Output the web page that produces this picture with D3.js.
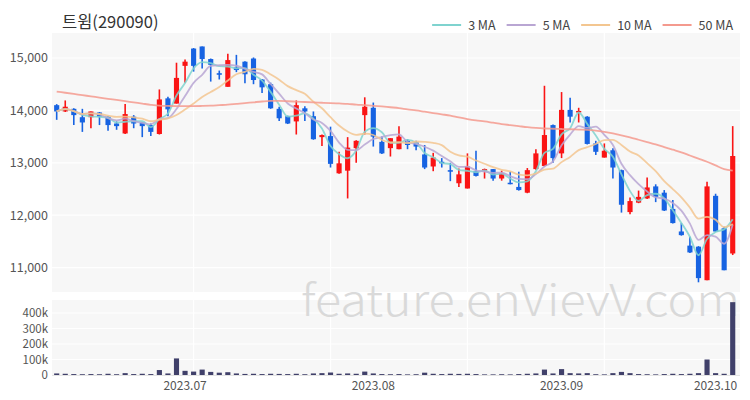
<!DOCTYPE html>
<html><head><meta charset="utf-8">
<script src="https://cdn.jsdelivr.net/npm/d3@7"></script>
<style>
body{margin:0;background:#fff;}
svg{display:block;}
text{font-family:"Noto Sans CJK KR","Noto Sans",sans-serif;}
</style>
</head><body>
<svg id="c" width="750" height="400"></svg>
<script>
const title = "트윔(290090)";
const opens  = [14100,13980,14030,13870,13870,13960,13880,13750,13560,13880,13770,13720,13550,14230,14130,14850,15180,15220,14980,14710,14450,14820,14930,14990,14590,14500,14030,13890,13790,14040,13890,13490,13510,12800,12850,13280,13910,14050,13400,13280,13260,13420,13390,13160,12930,13020,12860,12610,12510,12840,12850,12880,12700,12620,12540,12430,12880,12940,13720,13180,14010,13960,13880,13370,13100,13240,12860,12060,12240,12320,12550,12430,12120,11690,11420,11400,10760,12370,11750,11270];
const highs  = [14120,14190,14040,14030,13980,13970,13890,13790,14120,13910,13770,13750,14400,14260,14910,14970,15190,15220,14990,14760,15080,15060,14940,15010,14600,14530,14070,13900,14190,14080,13980,13540,13690,13210,13490,13430,14250,14150,13500,13470,13700,13450,13420,13340,13190,13090,13000,12890,13180,13230,12890,12880,12850,12830,12830,12900,13260,14470,13730,14350,14240,14050,13890,13420,13370,13280,12870,12340,12470,12720,12590,12480,12290,11850,11590,11410,12640,12410,11780,13700];
const lows   = [13820,13970,13720,13590,13660,13720,13610,13630,13550,13660,13490,13510,13540,13890,14130,14530,14740,14800,14550,14590,14450,14730,14520,14500,14330,14030,13800,13740,13540,13800,13440,13320,12910,12790,12320,13000,13540,13310,13170,13120,13260,13260,13240,12880,12840,12910,12650,12540,12510,12740,12700,12660,12660,12590,12470,12420,12870,12930,13000,13090,13770,13770,13350,13150,13100,12700,12050,12020,12230,12310,12250,12080,11840,11610,11280,10720,10760,11680,10950,11240];
const closes = [13980,14070,13910,13770,13980,13880,13720,13700,13930,13750,13700,13590,14210,14020,14620,14930,14850,14980,14870,14680,14960,14770,14690,14580,14440,14040,13850,13750,14100,13980,13450,13530,12980,12990,13290,13420,14070,13500,13180,13470,13500,13340,13310,12910,13100,12990,12830,12780,12930,12750,12880,12700,12800,12600,12480,12860,13180,13530,13090,14010,13880,13990,13360,13210,13230,12910,12200,12270,12350,12530,12350,12090,11850,11620,11290,10800,12550,11690,10950,13130];
const volumes = [10000,8000,6000,5000,6000,5000,8000,5000,12000,6000,8000,6000,32000,10000,107000,27000,22000,35000,20000,15000,18000,10000,7000,8000,6000,8000,7000,6000,8000,5000,10000,12000,16000,8000,10000,8000,22000,10000,6000,5000,6000,4000,5000,15000,8000,6000,8000,7000,8000,6000,4000,4000,5000,4000,6000,8000,10000,35000,10000,38000,12000,10000,12000,5000,4000,12000,20000,12000,6000,5000,4000,6000,8000,6000,8000,12000,100000,12000,8000,470000];
const ma50 = [14360,14337,14314,14291,14268,14245,14222,14199,14176,14153,14130,14107,14090,14085,14083,14082,14082,14085,14090,14100,14110,14125,14140,14155,14170,14180,14180,14175,14168,14160,14152,14146,14140,14133,14125,14110,14100,14088,14075,14060,14045,14020,14000,13975,13950,13925,13900,13865,13835,13810,13790,13765,13740,13720,13700,13680,13665,13655,13650,13645,13640,13635,13630,13615,13590,13560,13525,13485,13440,13395,13350,13300,13250,13200,13140,13080,13020,12950,12880,12850];
const priceTicks = [11000,12000,13000,14000,15000];
const volumeTicks = [0,100000,200000,300000,400000];
const monthTickIndex = [15,37,59,77];
const monthTickLabels = ["2023.07","2023.08","2023.09","2023.10"];
const maNames = ["3 MA","5 MA","10 MA","50 MA"];
const maWindows = [3,5,10];
const maColors = ["#7fd3cf","#b9a6d3","#f3c690","#f49a8e"];
const upColor = "#fa1414", downColor = "#1763e2", volColor = "#40406a";

const svg = d3.select("#c");
const N = closes.length;
const idx = d3.range(N);

const x = d3.scaleBand().domain(idx).range([50.7, 50.7 + 8.6*N]).padding(0.4);
const cx = i => x(i) + x.bandwidth()/2;
const y = d3.scaleLinear().domain([10535, 15477]).range([292, 33]);
const yv = d3.scaleLinear().domain([0, 484000]).range([375, 300]);

const left = 52, right = 740;

// backgrounds
svg.append("rect").attr("x",left).attr("y",33).attr("width",right-left).attr("height",292-33).attr("fill","#f7f7f7");
svg.append("rect").attr("x",left).attr("y",300).attr("width",right-left).attr("height",75).attr("fill","#f7f7f7");

// grid
const gridIdx = [16,32,48,64];
svg.append("g").selectAll("line").data(priceTicks).join("line")
  .attr("x1",left).attr("x2",right).attr("y1",d=>y(d)).attr("y2",d=>y(d))
  .attr("stroke","#fff").attr("stroke-width",1.2);
svg.append("g").selectAll("line").data(gridIdx).join("line")
  .attr("x1",d=>cx(d)).attr("x2",d=>cx(d)).attr("y1",33).attr("y2",292)
  .attr("stroke","#fff").attr("stroke-width",1.2);
svg.append("g").selectAll("line").data(volumeTicks.slice(1)).join("line")
  .attr("x1",left).attr("x2",right).attr("y1",d=>yv(d)).attr("y2",d=>yv(d))
  .attr("stroke","#fff").attr("stroke-width",1.2);
svg.append("g").selectAll("line").data(gridIdx).join("line")
  .attr("x1",d=>cx(d)).attr("x2",d=>cx(d)).attr("y1",300).attr("y2",375)
  .attr("stroke","#fff").attr("stroke-width",1.2);

// watermark
svg.append("text").attr("x",301).attr("y",316).text("feature.enVievV.com")
  .attr("font-family","Roboto, sans-serif").attr("font-size",44).attr("font-weight",300)
  .attr("textLength",439).attr("lengthAdjust","spacingAndGlyphs")
  .attr("fill","#d4d4d4").attr("opacity",0.85);

// y axes
const yAxis = d3.axisLeft(y).tickValues(priceTicks).tickFormat(d3.format(",")).tickSize(0).tickPadding(4);
const gy = svg.append("g").attr("transform",`translate(${left},0)`).call(yAxis);
gy.select(".domain").remove();
gy.selectAll("text").attr("font-size",12.5).attr("fill","#555").attr("font-family","Roboto, sans-serif");

const yvAxis = d3.axisLeft(yv).tickValues(volumeTicks).tickFormat(d=> d===0 ? "0" : d3.format("~s")(d)).tickSize(0).tickPadding(4);
const gyv = svg.append("g").attr("transform",`translate(${left},0)`).call(yvAxis);
gyv.select(".domain").remove();
gyv.selectAll("text").attr("font-size",11.5).attr("fill","#555").attr("font-family","Roboto, sans-serif");

// x axis
const xAxis = d3.axisBottom(x).tickValues(monthTickIndex).tickFormat((d,i)=>monthTickLabels[i]).tickSize(0).tickPadding(4);
const gx = svg.append("g").attr("transform",`translate(0,377)`).call(xAxis);
gx.select(".domain").remove();
gx.selectAll("text").attr("font-size",12).attr("fill","#555").attr("font-family","Roboto, sans-serif");

// baseline of volume
svg.append("line").attr("x1",left).attr("x2",right).attr("y1",375.5).attr("y2",375.5).attr("stroke","#e4e4e4");

// volume bars
svg.append("g").selectAll("rect").data(idx).join("rect")
  .attr("x",i=>x(i)).attr("width",x.bandwidth())
  .attr("y",i=>yv(volumes[i])).attr("height",i=>yv(0)-yv(volumes[i]))
  .attr("fill",volColor);

// candles
const g = svg.append("g");
g.selectAll("line").data(idx).join("line")
  .attr("x1",cx).attr("x2",cx)
  .attr("y1",i=>y(highs[i])).attr("y2",i=>y(lows[i]))
  .attr("stroke",i=>closes[i]>=opens[i]?upColor:downColor).attr("stroke-width",1.6);
g.selectAll("rect").data(idx).join("rect")
  .attr("x",i=>x(i)).attr("width",x.bandwidth())
  .attr("y",i=>y(Math.max(opens[i],closes[i])))
  .attr("height",i=>Math.max(1.5, Math.abs(y(opens[i])-y(closes[i]))))
  .attr("fill",i=>closes[i]>=opens[i]?upColor:downColor);

// moving averages (3/5/10 derived from the closes, 50)
const maSeries = maWindows.map(n => closes.map((c,i)=>d3.mean(closes.slice(Math.max(0,i-n+1), i+1))));
maSeries.push(ma50);
const line = d3.line().x((d,i)=>cx(i)).y(d=>y(d)).curve(d3.curveMonotoneX);
maSeries.forEach((s,k)=>{
  svg.append("path").datum(s).attr("d",line).attr("fill","none")
    .attr("stroke",maColors[k]).attr("stroke-width",1.8).attr("opacity",0.85);
});

// title
svg.append("text").attr("x",62).attr("y",28).text(title)
  .attr("font-size",16.5).attr("fill","#333");

// legend
const lg = svg.append("g");
let lx = 733;
for (let k = maNames.length-1; k>=0; k--) {
  const t = lg.append("text").attr("y",29.5).text(maNames[k]).attr("font-size",12.5).attr("fill","#444");
  const w = t.node().getComputedTextLength();
  t.attr("x", lx - w);
  lg.append("line").attr("x1",lx-w-36).attr("x2",lx-w-7).attr("y1",25).attr("y2",25)
    .attr("stroke",maColors[k]).attr("stroke-width",2);
  lx = lx - w - 36 - 11;
}
</script>
</body></html>
